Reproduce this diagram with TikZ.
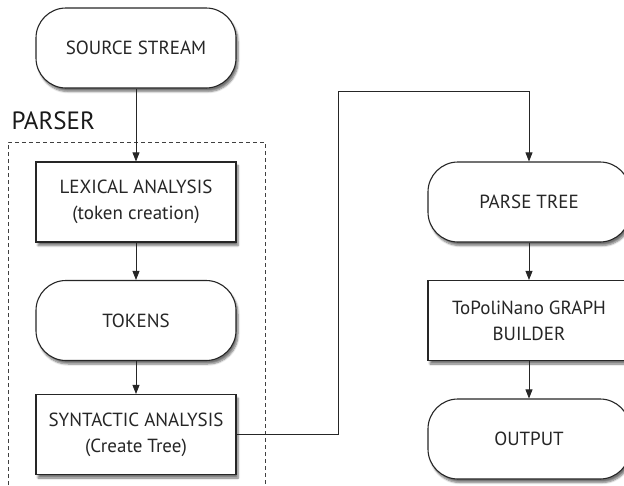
\documentclass[tikz,border=0pt]{standalone}
\usepackage{fontspec}
\setmainfont{PT Sans}
\usetikzlibrary{arrows.meta,shadows.blur}
\begin{document}
\begin{tikzpicture}[x=1pt,y=-1pt,
  every node/.style={font=\fontsize{19}{26}\selectfont, text=black!85, align=center},
  base/.style={draw=black!85, line width=1.1pt, fill=white,
    blur shadow={shadow xshift=2pt, shadow yshift=-3.5pt, shadow blur steps=6, shadow opacity=55},
    inner sep=0pt},
  term/.style={base, rounded corners=30pt, minimum width=200pt, minimum height=80pt},
  proc/.style={base, minimum width=200pt, minimum height=80pt},
  link/.style={line width=0.8pt, draw=black!85, -{Triangle[length=9pt,width=7pt]}},
  wire/.style={line width=0.8pt, draw=black!85}]
\useasboundingbox (0,0) rectangle (624,485);
\clip (0,0) rectangle (624,485);

% parser group
\node[anchor=base west, font=\fontsize{25}{30}\selectfont, text=black!90] (plabel) at (8,129) {PARSER};
\draw[line width=0.7pt, draw=black!75, dash pattern=on 4pt off 3pt] (8,492) -- (8,142) -- (265,142) -- (265,492);

% left column
\node[term] (src) at (136,48) {SOURCE STREAM};
\node[proc] (lex) at (136,202) {LEXICAL ANALYSIS\\(token creation)};
\node[term] (tok) at (136,320.5) {TOKENS};
\node[proc] (syn) at (136,434.5) {SYNTACTIC ANALYSIS\\(Create Tree)};

% right column
\node[term, minimum width=202pt] (tree) at (529,202) {PARSE TREE};
\node[proc, minimum width=202pt] (gb) at (529,320.5) {ToPoliNano GRAPH\\BUILDER};
\node[term, minimum width=202pt] (out) at (529,439) {OUTPUT};

\coordinate (c1) at (338,434.5);
\coordinate (c2) at (338,91);
\coordinate (c3) at (529,91);

\draw[link] (src) -- (lex);
\draw[link] (lex) -- (tok);
\draw[link] (tok) -- (syn);
\draw[link] (syn.east) -- (c1) -- (c2) -- (c3) -- (tree.north);
\draw[link] (tree) -- (gb);
\draw[link] (gb) -- (out);
\end{tikzpicture}
\end{document}
